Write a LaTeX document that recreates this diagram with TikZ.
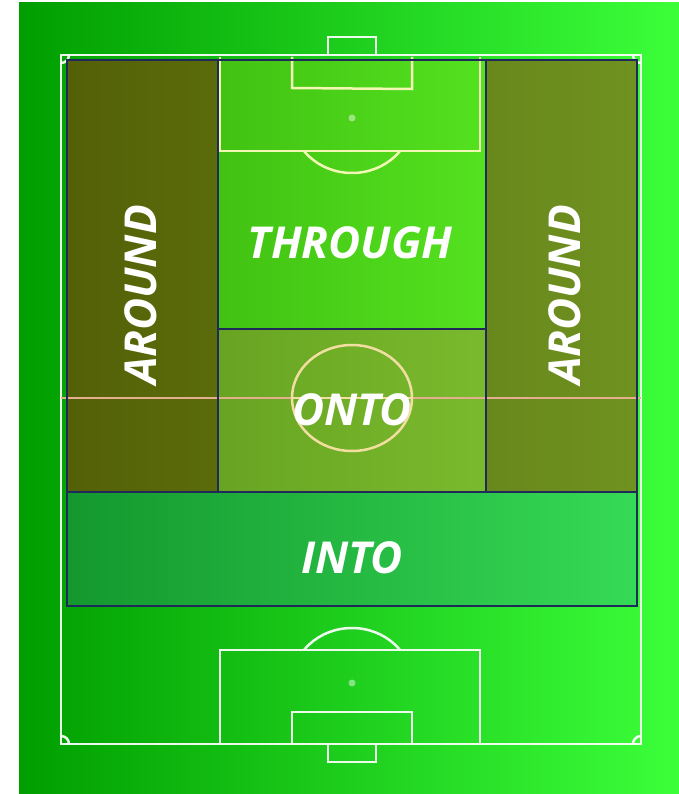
\documentclass[tikz,border=0pt]{standalone}
\usepackage{fontspec}
\setmainfont{Open Sans}
\definecolor{grassL}{HTML}{009E00}
\definecolor{grassR}{HTML}{3CFF3A}
\definecolor{zoneline}{HTML}{1F2A5A}
\definecolor{halfway}{HTML}{E2B08C}
\definecolor{boxline}{HTML}{F2F7B4}
\tikzset{
    zone/.style={draw=zoneline, line width=2.8pt},
    pitchline/.style={draw=white, line width=2.5pt, opacity=0.92},
    zonelabel/.style={text=white, font=\fontsize{44}{52}\selectfont\bfseries\itshape, inner sep=0pt}
}
\begin{document}
\begin{tikzpicture}[x=1pt, y=-1pt]
                \useasboundingbox (0, 0) rectangle (679, 794);
                \shade[left color=grassL, right color=grassR] (19, 3) rectangle (679, 793);
                % pitch corners
                \coordinate (TL) at (61, 55);
                \coordinate (TR) at (641, 55);
                \coordinate (BL) at (61, 744);
                \coordinate (BR) at (641, 744);
                \draw[pitchline] (TL) rectangle (BR);
                \draw[pitchline] (TL) ++(8, 0) arc[start angle=0, end angle=90, radius=8];
                \draw[pitchline] (TR) ++(-8, 0) arc[start angle=180, end angle=90, radius=8];
                \draw[pitchline] (BL) ++(8, 0) arc[start angle=0, end angle=-90, radius=8];
                \draw[pitchline] (BR) ++(-8, 0) arc[start angle=180, end angle=270, radius=8];
                % goals
                \draw[pitchline] (328, 55) -- (328, 37) -- (376, 37) -- (376, 55);
                \draw[pitchline] (328, 744) -- (328, 762) -- (376, 762) -- (376, 744);
                % zones
                \shade[left color={rgb,255:red,84;green,96;blue,8}, right color={rgb,255:red,91;green,108;blue,10}] (67, 60) rectangle (218, 492);
                \shade[left color={rgb,255:red,104;green,136;blue,28}, right color={rgb,255:red,112;green,146;blue,32}] (486, 60) rectangle (637, 492);
                \shade[left color={rgb,255:red,66;green,194;blue,18}, right color={rgb,255:red,84;green,226;blue,32}] (218, 60) rectangle (486, 329);
                \shade[left color={rgb,255:red,104;green,164;blue,34}, right color={rgb,255:red,122;green,186;blue,46}] (218, 329) rectangle (486, 492);
                \shade[left color={rgb,255:red,20;green,152;blue,46}, right color={rgb,255:red,54;green,218;blue,86}] (67, 492) rectangle (637, 606);
                % upper penalty area
                \draw[boxline, line width=2.5pt] (220, 57) -- (220, 151) -- (480, 151) -- (480, 57);
                \draw[boxline, line width=2.5pt] (292, 57) -- (292, 88) -- (412, 89) -- (412, 57);
                \fill[white, opacity=0.45] (352, 118) circle (3.5);
                \begin{scope}
                    \clip (250, 152) rectangle (450, 200);
                    \draw[boxline, line width=2.5pt] (352, 118) ellipse [x radius=60, y radius=55];
                \end{scope}
                % lower penalty area
                \draw[pitchline] (220, 744) -- (220, 650) -- (480, 650) -- (480, 744);
                \draw[pitchline] (292, 744) -- (292, 712) -- (412, 712) -- (412, 744);
                \fill[white, opacity=0.45] (352, 683) circle (3.5);
                \begin{scope}
                    \clip (250, 600) rectangle (450, 649);
                    \draw[pitchline] (352, 683) ellipse [x radius=60, y radius=55];
                \end{scope}
                % halfway line and centre circle
                \draw[halfway, line width=2.5pt] (61, 398) -- (641, 398);
                \draw[halfway!70!yellow!60!white, line width=2.5pt] (292, 398) -- (412, 398);
                \draw[halfway!70!yellow!60!white, line width=2.5pt] (352, 398) ellipse [x radius=60, y radius=53];
                % zone borders
                \draw[zone] (67, 60) rectangle (637, 606);
                \draw[zone] (218, 60) -- (218, 492);
                \draw[zone] (486, 60) -- (486, 492);
                \draw[zone] (218, 329) -- (486, 329);
                \draw[zone] (67, 492) -- (637, 492);
                % labels
                \node[zonelabel] (through) at (350, 243) {THROUGH};
                \node[zonelabel, rotate=90] (aroundL) at (141, 295) {AROUND};
                \node[zonelabel, rotate=90] (aroundR) at (565, 295) {AROUND};
                \node[zonelabel] (onto) at (352, 410) {ONTO};
                \node[zonelabel] (into) at (352, 558) {INTO};
            \end{tikzpicture}
\end{document}
